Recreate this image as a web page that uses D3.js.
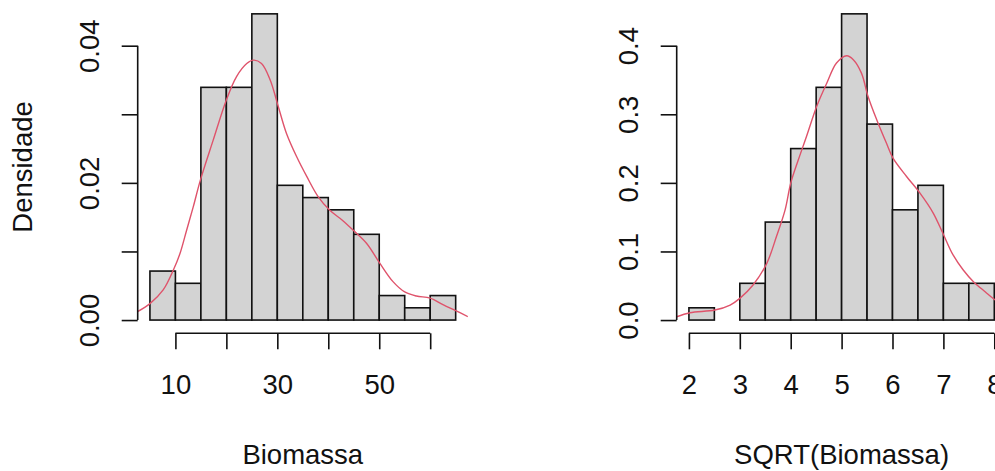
<!DOCTYPE html>
<html>
<head>
<meta charset="utf-8">
<script src="https://cdn.jsdelivr.net/npm/d3@7"></script>
<style>
  html, body { margin: 0; padding: 0; background: #fff; }
  svg { display: block; }
  text { font-family: "Liberation Sans", Arial, sans-serif; fill: #111; }
</style>
</head>
<body>
<svg id="chart" width="995" height="471"></svg>
<script>
// Histogram of Biomassa (bins of width 5 from 5 to 65)
const bioBreaks = [5, 10, 15, 20, 25, 30, 35, 40, 45, 50, 55, 60, 65];
const bioCounts = [4, 3, 19, 19, 25, 11, 10, 9, 7, 2, 1, 2];

// Histogram of SQRT(Biomassa) (bins of width 0.5 from 2 to 8)
const sqrtBreaks = [2, 2.5, 3, 3.5, 4, 4.5, 5, 5.5, 6, 6.5, 7, 7.5, 8];
const sqrtCounts = [1, 0, 3, 8, 14, 19, 25, 16, 9, 11, 3, 3];

// Kernel density estimate of Biomassa
const bioDensX = [2.5, 5.0, 7.6, 9.6, 10.9, 12.2, 13.5, 14.9, 17.4, 20.0, 22.0, 24.0, 25.3, 26.9,
  28.6, 30.2, 31.8, 33.8, 35.8, 38.0, 40.3, 42.7, 44.9, 47.5, 50.1, 52.7, 55.0, 57.3, 60.0, 62.6, 64.9, 67.4];
const bioDensY = [0.0012, 0.0024, 0.0044, 0.0073, 0.0097, 0.0131, 0.0165, 0.0204, 0.0262, 0.0321, 0.0355,
  0.0374, 0.0379, 0.0374, 0.0350, 0.0311, 0.0272, 0.0238, 0.0209, 0.0180, 0.0160, 0.0146, 0.0131, 0.0112,
  0.0083, 0.0056, 0.0041, 0.0035, 0.0032, 0.0022, 0.0014, 0.0005];

// Kernel density estimate of SQRT(Biomassa)
const sqrtDensX = [1.76, 2.02, 2.51, 2.81, 3.0, 3.26, 3.53, 3.72, 3.89, 4.0, 4.15, 4.31, 4.51, 4.71, 4.90,
  5.10, 5.23, 5.39, 5.52, 5.69, 5.88, 6.01, 6.28, 6.54, 6.80, 6.99, 7.19, 7.39, 7.59, 7.82, 8.02, 8.12];
const sqrtDensY = [0.0048, 0.0107, 0.0146, 0.0219, 0.0316, 0.0511, 0.0827, 0.1217, 0.1606, 0.1995, 0.2336,
  0.2676, 0.3114, 0.3455, 0.3747, 0.3854, 0.3796, 0.360, 0.326, 0.292, 0.258, 0.236, 0.209, 0.185, 0.156,
  0.1265, 0.0949, 0.073, 0.056, 0.0413, 0.0292, 0.025];

// Axis ticks and labels
const bioXTicks = [10, 20, 30, 40, 50, 60];
const bioXLabels = ["10", "", "30", "", "50", ""];
const bioYTicks = [0, 0.01, 0.02, 0.03, 0.04];
const bioYLabels = ["0.00", "", "0.02", "", "0.04"];
const sqrtXTicks = [2, 3, 4, 5, 6, 7, 8];
const sqrtXLabels = ["2", "3", "4", "5", "6", "7", "8"];
const sqrtYTicks = [0, 0.1, 0.2, 0.3, 0.4];
const sqrtYLabels = ["0.0", "0.1", "0.2", "0.3", "0.4"];

const yLabelText = "Densidade";
const bioTitle = "Biomassa";
const sqrtTitle = "SQRT(Biomassa)";

const svg = d3.select("#chart");
const FONT = 27.5;
const TICK = 16;
const plotTop = 1.6, plotBottom = 332.3;

function panel(opts) {
  const { id, left, right, xDomain, breaks, counts, densX, densY,
          xTicks, xLabels, yTicks, yLabels, xTitle, yTitle } = opts;
  const n = d3.sum(counts);
  const bars = counts.map((c, i) => ({
    x0: breaks[i], x1: breaks[i + 1],
    d: c / (n * (breaks[i + 1] - breaks[i]))
  }));
  const ymax = d3.max(bars, b => b.d);
  const x = d3.scaleLinear().domain(xDomain).range([left, right]);
  const y = d3.scaleLinear().domain([-0.04 * ymax, 1.04 * ymax]).range([plotBottom, plotTop]);

  const g = svg.append("g");

  g.append("clipPath").attr("id", "clip-" + id)
    .append("rect").attr("x", left).attr("y", plotTop)
    .attr("width", right - left).attr("height", plotBottom - plotTop);

  // bars
  g.append("g").selectAll("rect").data(bars).join("rect")
    .attr("x", b => x(b.x0)).attr("width", b => x(b.x1) - x(b.x0))
    .attr("y", b => y(b.d)).attr("height", b => y(0) - y(b.d))
    .attr("fill", "#d3d3d3").attr("stroke", "#111").attr("stroke-width", 1.6);

  // density curve
  const pts = densX.map((v, i) => [v, densY[i]]);
  g.append("path").datum(pts)
    .attr("clip-path", "url(#clip-" + id + ")")
    .attr("d", d3.line().x(p => x(p[0])).y(p => y(p[1])).curve(d3.curveCatmullRom.alpha(0.5)))
    .attr("fill", "none").attr("stroke", "#DF536B").attr("stroke-width", 1.4);

  // x axis
  const xa = g.append("g").attr("transform", `translate(0,${plotBottom + 1})`)
    .call(d3.axisBottom(x).tickValues(xTicks).tickSize(TICK).tickSizeOuter(0)
      .tickFormat((d, i) => xLabels[i]));
  xa.select(".domain").attr("d", `M${x(xTicks[0])},0H${x(xTicks[xTicks.length - 1])}`);
  xa.selectAll("line, .domain").attr("stroke", "#111").attr("stroke-width", 1.6);
  xa.selectAll("text").attr("font-size", FONT).attr("font-family", "Liberation Sans, Arial, sans-serif")
    .attr("fill", "#111").attr("y", 0).attr("dy", null)
    .attr("transform", "translate(0,61)");

  // y axis
  const ya = g.append("g").attr("transform", `translate(${left},0)`)
    .call(d3.axisLeft(y).tickValues(yTicks).tickSize(TICK).tickSizeOuter(0)
      .tickFormat((d, i) => yLabels[i]));
  ya.select(".domain").attr("d", `M0,${y(yTicks[0])}V${y(yTicks[yTicks.length - 1])}`);
  ya.selectAll("line, .domain").attr("stroke", "#111").attr("stroke-width", 1.6);
  ya.selectAll("text").attr("font-size", FONT).attr("font-family", "Liberation Sans, Arial, sans-serif")
    .attr("fill", "#111").attr("x", 0).attr("dy", null)
    .attr("text-anchor", "middle")
    .attr("transform", "translate(-39,0) rotate(-90)");

  // axis titles
  g.append("text").attr("x", (left + right) / 2).attr("y", 464)
    .attr("text-anchor", "middle").attr("font-size", FONT).text(xTitle);
  if (yTitle) {
    g.append("text").attr("transform", `translate(${left - 106},${(plotTop + plotBottom) / 2}) rotate(-90)`)
      .attr("text-anchor", "middle").attr("font-size", FONT).text(yTitle);
  }
}

panel({
  id: "bio", left: 137.7, right: 467.9, xDomain: [2.6, 67.4],
  breaks: bioBreaks, counts: bioCounts, densX: bioDensX, densY: bioDensY,
  xTicks: bioXTicks, xLabels: bioXLabels, yTicks: bioYTicks, yLabels: bioYLabels,
  xTitle: bioTitle, yTitle: yLabelText
});

panel({
  id: "sqrt", left: 676.7, right: 1006.5, xDomain: [1.76, 8.24],
  breaks: sqrtBreaks, counts: sqrtCounts, densX: sqrtDensX, densY: sqrtDensY,
  xTicks: sqrtXTicks, xLabels: sqrtXLabels, yTicks: sqrtYTicks, yLabels: sqrtYLabels,
  xTitle: sqrtTitle, yTitle: null
});
</script>
</body>
</html>
